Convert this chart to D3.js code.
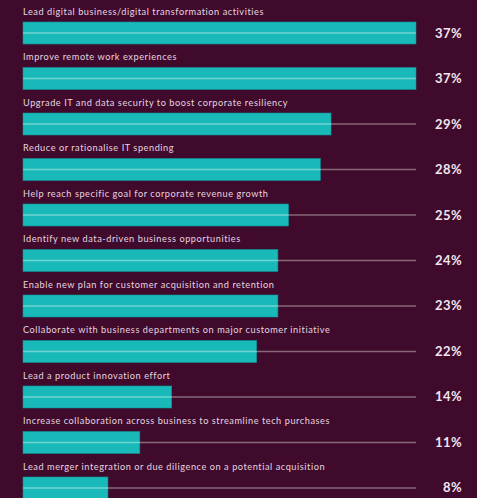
<!DOCTYPE html>
<html lang="en">
	<head>
		<meta charset="utf-8">
		<title>IT leader priorities</title>
		<script src="https://d3js.org/d3.v7.min.js"></script>
		<style type="text/css">
			body {
				margin: 0;
				background-color: #3f0a2b;
			}
			svg {
				display: block;
			}
			.label {
				font-family: Lato, sans-serif;
				font-size: 9.2px;
				letter-spacing: 0.55px;
				fill: #e6d6e0;
			}
			.pct {
				font-family: Lato, sans-serif;
				font-size: 13px;
				font-weight: bold;
				letter-spacing: 0.4px;
				fill: #f1e6ee;
			}
		</style>
	</head>
	<body>
		<script type="text/javascript">

			//Width and height
			var w = 477;
			var h = 498;

			//Chart data
			var categories = [
				"Lead digital business/digital transformation activities",
				"Improve remote work experiences",
				"Upgrade IT and data security to boost corporate resiliency",
				"Reduce or rationalise IT spending",
				"Help reach specific goal for corporate revenue growth",
				"Identify new data-driven business opportunities",
				"Enable new plan for customer acquisition and retention",
				"Collaborate with business departments on major customer initiative",
				"Lead a product innovation effort",
				"Increase collaboration across business to streamline tech purchases",
				"Lead merger integration or due diligence on a potential acquisition"
			];
			var values = [37, 37, 29, 28, 25, 24, 24, 22, 14, 11, 8];
			var valueLabels = ["37%", "37%", "29%", "28%", "25%", "24%", "23%", "22%", "14%", "11%", "8%"];

			//Scales
			var x = d3.scaleLinear()
						.domain([0, 37])
						.range([23, 416]);

			var y = d3.scaleBand()
						.domain(categories)
						.range([22, 499])
						.paddingInner(0.516)
						.paddingOuter(0)
						.align(0);

			//Create SVG element
			var svg = d3.select("body")
						.append("svg")
						.attr("width", w)
						.attr("height", h);

			var rows = svg.selectAll("g.row")
						.data(categories)
						.enter()
						.append("g")
						.attr("class", "row");

			//Bars
			rows.append("rect")
				.attr("x", x(0))
				.attr("y", function(d) { return y(d); })
				.attr("width", function(d, i) { return x(values[i]) - x(0); })
				.attr("height", y.bandwidth())
				.attr("fill", "#19b9b9")
				.attr("stroke", "#0f8f94")
				.attr("stroke-width", 0.6);

			//Thin track line through the middle of each bar
			rows.append("line")
				.attr("x1", x(0))
				.attr("x2", x(37))
				.attr("y1", function(d) { return y(d) + y.bandwidth() / 2; })
				.attr("y2", function(d) { return y(d) + y.bandwidth() / 2; })
				.attr("stroke", "#ffffff")
				.attr("stroke-opacity", 0.38)
				.attr("stroke-width", 1.4);

			//Category labels
			rows.append("text")
				.attr("class", "label")
				.attr("x", x(0))
				.attr("y", function(d) { return y(d) - 7; })
				.text(function(d) { return d; });

			//Percent labels
			rows.append("text")
				.attr("class", "pct")
				.attr("x", 462)
				.attr("y", function(d) { return y(d) + y.bandwidth() / 2 + 4.5; })
				.attr("text-anchor", "end")
				.text(function(d, i) { return valueLabels[i]; });

		</script>
	</body>
</html>
